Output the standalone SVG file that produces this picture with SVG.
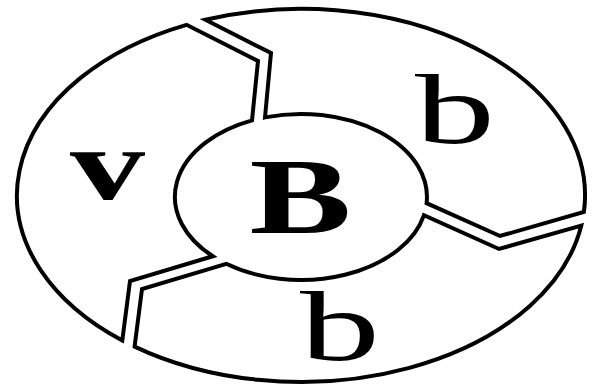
<svg xmlns="http://www.w3.org/2000/svg" width="599" height="387" viewBox="0 0 599 387">
<style>
.reg{fill:#fff;stroke:#000;stroke-width:4;stroke-linejoin:miter}
.lbl{font-family:"Liberation Serif","Times New Roman",serif;fill:#000}
.bold{font-weight:bold}
</style>
<rect width="599" height="387" fill="#fff"/>
<g id="region-v">
<path class="reg" d="M186.6,24.8 A284,186.5 0 0 0 122.3,340.5 L130,281 L212.8,256.25 A126,83 0 0 1 252,120.4 L258,61 Z"/>
<text class="lbl bold" x="70" y="199" font-size="102" textLength="75" lengthAdjust="spacingAndGlyphs">v</text>
</g>
<g id="region-b-top">
<path class="reg" d="M205.4,19.8 A284,186.5 0 0 1 583.9,212 L500,236 L426.6,203.2 A126,83 0 0 0 265,117.4 L271,53 Z"/>
<text class="lbl" x="415" y="143" font-size="100" textLength="80" lengthAdjust="spacingAndGlyphs">b</text>
</g>
<g id="region-b-bottom">
<path class="reg" d="M581.3,225.5 A284,186.5 0 0 1 134.6,346.6 L142,289 L226.3,263.8 A126,83 0 0 0 423.9,215.3 L499,249 Z"/>
<text class="lbl" x="300" y="360" font-size="100" textLength="80" lengthAdjust="spacingAndGlyphs">b</text>
</g>
<g id="center-B">
<text class="lbl bold" x="249.5" y="233" font-size="107" textLength="102" lengthAdjust="spacingAndGlyphs">B</text>
</g>
<g id="connectors"></g>
</svg>
